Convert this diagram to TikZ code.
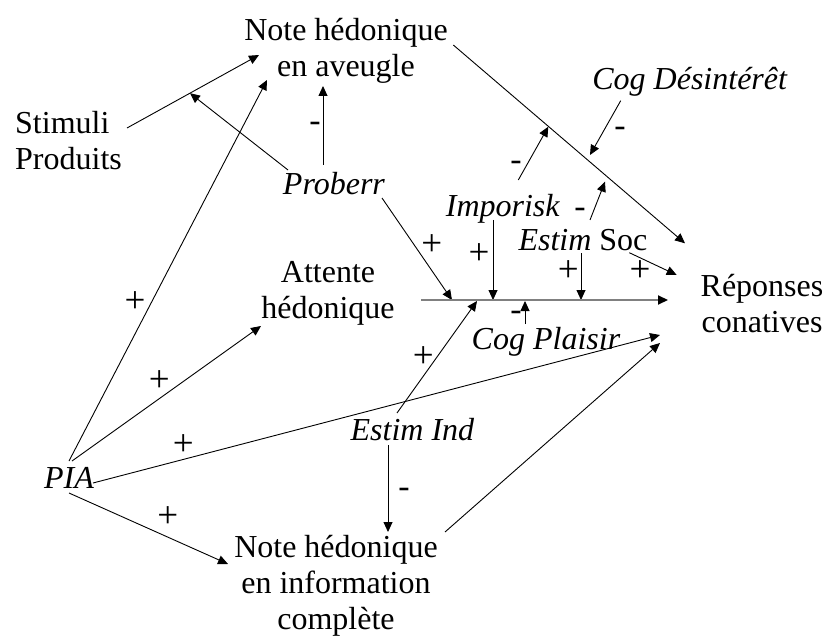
\documentclass[tikz,border=0pt]{standalone}
\usepackage{fontspec}
\setmainfont{Liberation Serif}
\usetikzlibrary{arrows.meta}
\begin{document}
\begin{tikzpicture}[x=1pt,y=-1pt,
  txt/.style={inner sep=0pt, font=\fontsize{32}{36}\selectfont},
  mtxt/.style={txt, align=center},
  lbl/.style={txt, anchor=base},
  sgn/.style={inner sep=0pt, font=\fontsize{34}{36}\selectfont, anchor=base},
  pls/.style={inner sep=0pt, font=\fontsize{37}{40}\selectfont, anchor=base},
  arr/.style={-{Triangle[length=10pt,width=9pt]}, line width=0.9pt},
  gline/.style={line width=2pt, draw={rgb,255:red,128;green,128;blue,128},
     -{Triangle[length=10pt,width=9pt,fill=black,color=black]}},
  ]
\useasboundingbox (0,0) rectangle (826,636);
% nodes
\node[mtxt, anchor=north] (av) at (346,18.5) {Note hédonique\\en aveugle};
\node[txt, align=left, anchor=north west] (st) at (15,111) {Stimuli\\Produits};
\node[lbl] (pb) at (334,195) {\textit{Proberr}};
\node[lbl] (cd) at (690,90) {\textit{Cog Désintérêt}};
\node[lbl] (im) at (503,216) {\textit{Imporisk}};
\node[lbl] (es) at (583,250) {\textit{Estim} Soc};
\node[mtxt, anchor=north] (at) at (328,261) {Attente\\hédonique};
\node[mtxt, anchor=north] (rp) at (762,274) {Réponses\\conatives};
\node[lbl] (cp) at (546,349) {\textit{Cog Plaisir}};
\node[lbl] (ei) at (412.5,440) {\textit{Estim Ind}};
\node[lbl] (pia) at (69,488) {\textit{PIA}};
\node[mtxt, anchor=north] (inf) at (336,535) {Note hédonique\\en information\\complète};
% coordinates on the grey line and on the long diagonal
\coordinate (g1) at (421,300);
\coordinate (g2) at (668,300);
\coordinate (h1) at (452,300);
\coordinate (h2) at (477,301);
\coordinate (h3) at (493,300);
\coordinate (h4) at (525,301);
\coordinate (h5) at (581,300);
\coordinate (d1) at (548.3,126.7);
\coordinate (d2) at (590,155);
\coordinate (d3) at (605,181.7);
% connectors
\draw[arr] ([shift={(112,17)}]st.north west) -- coordinate[pos=0.477] (m1) ([shift={(-87,36.5)}]av.north);
\draw[arr] ([shift={(-46,-25)}]pb.base) -- (m1);
\draw[arr] ([shift={(-11,-30)}]pb.base) -- ([shift={(-23,67.5)}]av.north);
\draw[arr] ([shift={(0,-27)}]pia.base) -- ([shift={(-79,61.5)}]av.north);
\draw[arr] ([shift={(3,-27)}]pia.base) -- ([shift={(-67,65)}]at.north);
\draw[arr] ([shift={(24,-5)}]pia.base) -- ([shift={(-102,61)}]rp.north);
\draw[arr] ([shift={(0,5)}]pia.base) -- ([shift={(-108,29)}]inf.north);
\draw[arr] ([shift={(-24.5,5)}]ei.base) -- ([shift={(52,-3)}]inf.north);
\draw[arr] ([shift={(109,-3)}]inf.north) -- ([shift={(-102,69)}]rp.north);
\draw[arr] ([shift={(-15.5,-27)}]ei.base) -- (h2);
\draw[arr] ([shift={(107.3,26.5)}]av.north) -- ([shift={(-77,-30.7)}]rp.north);
\draw[arr] ([shift={(15.3,-36)}]im.base) -- (d1);
\draw[arr] ([shift={(-69.3,10.7)}]cd.base) -- (d2);
\draw[arr] ([shift={(7,-30)}]es.base) -- (d3);
\draw[arr] ([shift={(48,3)}]pb.base) -- (h1);
\draw[arr] ([shift={(-10,4)}]im.base) -- (h3);
\draw[arr] ([shift={(-2,3)}]es.base) -- (h5);
\draw[arr] ([shift={(46.3,2.7)}]es.base) -- ([shift={(-85.3,1)}]rp.north);
\draw[gline] (g1) -- (g2);
\draw[arr] ([shift={(-21,-25)}]cp.base) -- (h4);
% signs
\node[sgn] (s1) at (315,131.8) {-};
\node[pls] (s2) at (135,312.5) {+};
\node[pls] (s3) at (159.3,391.9) {+};
\node[pls] (s4) at (183.3,455.9) {+};
\node[pls] (s5) at (167.7,527.5) {+};
\node[sgn] (s6) at (404,497.8) {-};
\node[pls] (s7) at (423.3,367.5) {+};
\node[sgn] (s8) at (516,170.2) {-};
\node[sgn] (s9) at (620,136.8) {-};
\node[sgn] (s10) at (580,217.8) {-};
\node[pls] (s11) at (431.7,255.9) {+};
\node[pls] (s12) at (479,264.2) {+};
\node[pls] (s13) at (568.3,281) {+};
\node[pls] (s14) at (640,281) {+};
\node[sgn] (s15) at (516,320.8) {-};
\end{tikzpicture}
\end{document}
